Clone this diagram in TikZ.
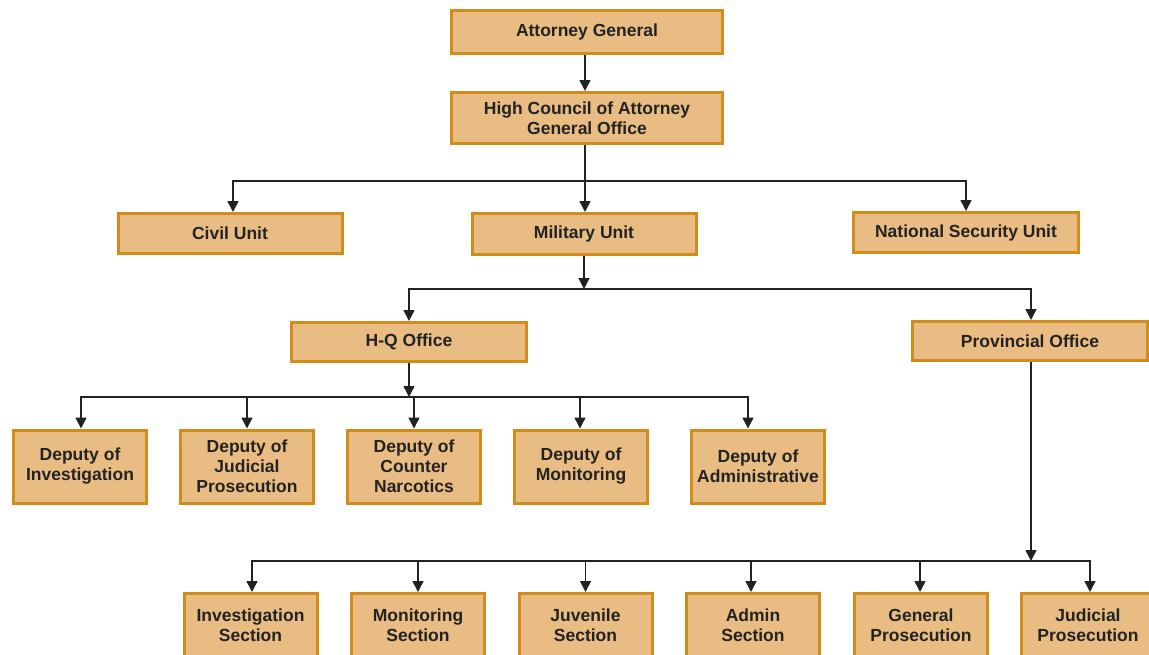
\documentclass[tikz,border=0pt]{standalone}
\usepackage{fontspec}
\setmainfont{Liberation Sans}
\usetikzlibrary{arrows.meta}
\definecolor{boxfill}{HTML}{E8BC82}
\definecolor{boxline}{HTML}{D28C1E}
\definecolor{txt}{HTML}{232323}
\definecolor{ln}{HTML}{222222}
\tikzset{
  box/.style={draw=boxline, fill=boxfill, line width=3pt, inner sep=0pt,
    align=center, text=txt, font=\fontsize{17.5}{20}\selectfont\bfseries},
  small/.style={box, minimum width=133pt, minimum height=73pt},
  sect/.style={box, minimum width=133pt, minimum height=63pt},
  arr/.style={draw=ln, line width=1.5pt, -{Triangle[length=11pt,width=11pt]}}
}
\begin{document}
\begin{tikzpicture}[x=1pt,y=-1pt]
\useasboundingbox (0,0) rectangle (1149,654);
\clip (0,0) rectangle (1149,654);
\node[box, minimum width=271pt, minimum height=43pt] (ag) at (587,32) {Attorney General};
\node[box, minimum width=271pt, minimum height=51pt] (hc) at (587,118) {High Council of Attorney\\General Office};
\node[box, minimum width=224pt, minimum height=40pt] (civ) at (230,233.5) {Civil Unit};
\node[box, minimum width=224pt, minimum height=41pt] (mil) at (584,234) {Military Unit};
\node[box, minimum width=225pt, minimum height=40pt] (nsu) at (966,232.5) {National Security Unit};
\node[box, minimum width=235pt, minimum height=39pt] (hq) at (409,342) {H-Q Office};
\node[box, minimum width=235pt, minimum height=39pt] (prov) at (1030,341) {Provincial Office};

\node[small] (d1) at (80,466.5) {Deputy of\\Investigation};
\node[small] (d2) at (247,466.5) {Deputy of\\Judicial\\Prosecution};
\node[small] (d3) at (414,466.5) {Deputy of\\Counter\\Narcotics};
\node[small] (d4) at (581,466.5) {Deputy of\\Monitoring};
\node[small] (d5) at (758,466.5) {Deputy of\\Administrative};

\node[sect] (s1) at (250.5,625) {Investigation\\Section};
\node[sect] (s2) at (418,625) {Monitoring\\Section};
\node[sect] (s3) at (585.5,625) {Juvenile\\Section};
\node[sect] (s4) at (753,625) {Admin\\Section};
\node[sect] (s5) at (921,625) {General\\Prosecution};
\node[sect] (s6) at (1088,625) {Judicial\\Prosecution};

% connectors
\draw[arr] (ag.south -| 585,0) -- (hc.north -| 585,0);
\coordinate (b1) at (585,181);
\draw[arr] (hc.south -| 585,0) -- (mil.north -| 585,0);
\draw[arr] (b1) -| ([xshift=3pt]civ.north);
\draw[arr] (b1) -| (nsu.north);

\coordinate (b2) at (584,289);
\draw[arr] (mil.south) -- (b2);
\draw[arr] (b2) -| (hq.north);
\draw[arr] (b2) -| ([xshift=1pt]prov.north);

\coordinate (b3) at (409,397);
\draw[arr] (hq.south) -- (b3);
\draw[arr] (b3) -| ([xshift=1pt]d1.north);
\draw[arr] (b3) -| (d2.north);
\draw[arr] (b3) -| (d3.north);
\draw[arr] (b3) -| ([xshift=-1pt]d4.north);
\draw[arr] (b3) -| ([xshift=-10pt]d5.north);

\coordinate (b4) at (1031,561);
\draw[arr] (prov.south -| b4) -- (b4);
\draw[arr] (b4) -| ([xshift=1.5pt]s1.north);
\draw[arr] (b4) -| (s2.north);
\draw[arr] (b4) -| (s3.north);
\draw[arr] (b4) -| ([xshift=-2pt]s4.north);
\draw[arr] (b4) -| ([xshift=-1pt]s5.north);
\draw[arr] (b4) -| ([xshift=2pt]s6.north);
\end{tikzpicture}
\end{document}
